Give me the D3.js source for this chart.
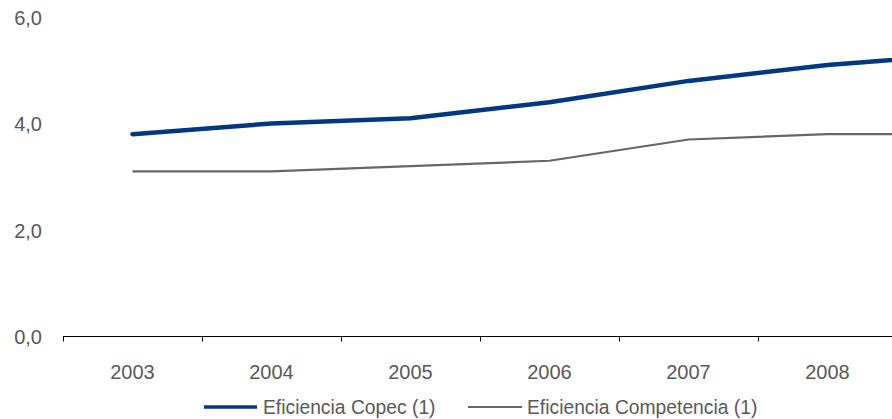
<!DOCTYPE html>
<html><head><meta charset="utf-8">
<script src="https://cdn.jsdelivr.net/npm/d3@7"></script>
<style>
html,body{margin:0;padding:0;background:#fff;overflow:hidden}
svg{display:block;font-family:"Liberation Sans",Arial,sans-serif}
</style></head>
<body>
<script>
const categories = ["2003","2004","2005","2006","2007","2008","2009"];
const copec = [3.8, 4.0, 4.1, 4.4, 4.8, 5.1, 5.3];
const competencia = [3.1, 3.1, 3.2, 3.3, 3.7, 3.8, 3.8];
const yTicks = [0, 2, 4, 6];
const seriesNames = ["Eficiencia Copec (1)", "Eficiencia Competencia (1)"];

const W = 892, H = 419;
const svg = d3.select("body").append("svg").attr("width", W).attr("height", H);

const x = d3.scaleBand().domain(categories).range([63, 63 + 139 * categories.length]);
const y = d3.scaleLinear().domain([0, 6]).range([336.5, 17]);
const cx = d => x(d) + x.bandwidth() / 2;

// x axis line
const axisG = svg.append("g").attr("transform", `translate(0,${y(0)})`);
axisG.append("line").attr("x1", x.range()[0]).attr("x2", W).attr("y1", 0).attr("y2", 0)
  .attr("stroke", "#000").attr("stroke-width", 1.2);
axisG.selectAll(".tk").data(categories.filter(d => x(d) < W)).enter().append("line")
  .attr("x1", d => x(d) + 0.5).attr("x2", d => x(d) + 0.5).attr("y1", 0).attr("y2", 5)
  .attr("stroke", "#000").attr("stroke-width", 1);
axisG.selectAll(".lbl").data(categories.filter(d => cx(d) + 25 < W)).enter().append("text")
  .attr("x", d => cx(d)).attr("y", 42.5)
  .attr("text-anchor", "middle").attr("font-size", 20).attr("fill", "#595959").text(d => d);

// y labels
svg.selectAll(".yl").data(yTicks).enter().append("text")
  .attr("x", 42).attr("y", d => y(d) + 7.5)
  .attr("text-anchor", "end").attr("font-size", 20).attr("fill", "#595959")
  .text(d => d3.format(".1f")(d).replace(".", ","));

const line = d3.line().x((d, i) => cx(categories[i])).y(d => y(d));

svg.append("path").datum(competencia).attr("d", line).attr("fill", "none")
  .attr("stroke", "#666666").attr("stroke-width", 2.2).attr("stroke-linejoin", "round");
svg.append("path").datum(copec).attr("d", line).attr("fill", "none")
  .attr("stroke", "#003882").attr("stroke-width", 4.5).attr("stroke-linejoin", "round").attr("stroke-linecap", "round");

// legend
const leg = [
  {name: seriesNames[0], color: "#003882", w: 3.5, x1: 204, x2: 257, tx: 263},
  {name: seriesNames[1], color: "#666666", w: 2.2, x1: 468, x2: 522, tx: 527}
];
const lg = svg.selectAll(".leg").data(leg).enter().append("g");
lg.append("line").attr("x1", d => d.x1).attr("x2", d => d.x2).attr("y1", 407).attr("y2", 407)
  .attr("stroke", d => d.color).attr("stroke-width", d => d.w);
lg.append("text").attr("x", d => d.tx).attr("y", 414).attr("font-size", 19.3).attr("fill", "#595959").text(d => d.name);
</script>
</body></html>
